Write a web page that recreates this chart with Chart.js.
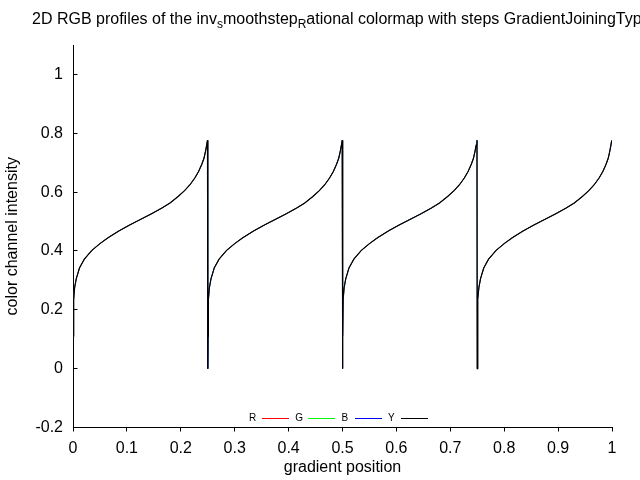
<!DOCTYPE html>
<html>
<head>
<meta charset="utf-8">
<script src="https://cdn.jsdelivr.net/npm/chart.js@4/dist/chart.umd.min.js"></script>
<style>
  html, body { margin: 0; padding: 0; background: #fff; }
  #wrap { width: 640px; height: 480px; }
</style>
</head>
<body>
<div id="wrap"><canvas id="profiles" width="640" height="480"></canvas></div>
<script>
// --- data ---
// gradient positions (four steps, a 0 sample at each joint)
const positions = [
  0.0005, 0.0012, 0.003, 0.006, 0.012, 0.021, 0.035, 0.05, 0.065, 0.085, 0.105, 0.125, 0.145,
  0.165, 0.18, 0.195, 0.207, 0.217, 0.226, 0.233, 0.239, 0.243, 0.246, 0.248, 0.2495, 0.25,
  0.2505, 0.2512, 0.253, 0.256, 0.262, 0.271, 0.285, 0.3, 0.315, 0.335, 0.355, 0.375, 0.395,
  0.415, 0.43, 0.445, 0.457, 0.467, 0.476, 0.483, 0.489, 0.493, 0.496, 0.498, 0.4995, 0.5,
  0.5005, 0.5012, 0.503, 0.506, 0.512, 0.521, 0.535, 0.55, 0.565, 0.585, 0.605, 0.625, 0.645,
  0.665, 0.68, 0.695, 0.707, 0.717, 0.726, 0.733, 0.739, 0.743, 0.746, 0.748, 0.7495, 0.75,
  0.7505, 0.7512, 0.753, 0.756, 0.762, 0.771, 0.785, 0.8, 0.815, 0.835, 0.855, 0.875, 0.895,
  0.915, 0.93, 0.945, 0.957, 0.967, 0.976, 0.983, 0.989, 0.993, 0.996, 0.998, 0.9995
];

// channel intensity at each position (gray map, so R = G = B = Y)
const intensity = [
  0.110, 0.235, 0.275, 0.305, 0.342, 0.372, 0.402, 0.425, 0.445, 0.468, 0.488, 0.507, 0.526,
  0.546, 0.563, 0.585, 0.605, 0.625, 0.648, 0.670, 0.695, 0.715, 0.740, 0.760, 0.776, 0,
  0.110, 0.235, 0.275, 0.305, 0.342, 0.372, 0.402, 0.425, 0.445, 0.468, 0.488, 0.507, 0.526,
  0.546, 0.563, 0.585, 0.605, 0.625, 0.648, 0.670, 0.695, 0.715, 0.740, 0.760, 0.776, 0,
  0.110, 0.235, 0.275, 0.305, 0.342, 0.372, 0.402, 0.425, 0.445, 0.468, 0.488, 0.507, 0.526,
  0.546, 0.563, 0.585, 0.605, 0.625, 0.648, 0.670, 0.695, 0.715, 0.740, 0.760, 0.776, 0,
  0.110, 0.235, 0.275, 0.305, 0.342, 0.372, 0.402, 0.425, 0.445, 0.468, 0.488, 0.507, 0.526,
  0.546, 0.563, 0.585, 0.605, 0.625, 0.648, 0.670, 0.695, 0.715, 0.740, 0.760, 0.776
];

const redValues = intensity;
const greenValues = intensity;
const blueValues = intensity;
const lumaValues = intensity;

const channelLabels = ['R', 'G', 'B', 'Y'];
const xTicks = [0, 0.1, 0.2, 0.3, 0.4, 0.5, 0.6, 0.7, 0.8, 0.9, 1];
const yTicks = [-0.2, 0, 0.2, 0.4, 0.6, 0.8, 1];

const titleParts = [
  ['2D RGB profiles of the inv', false],
  ['s', true],
  ['moothstep', false],
  ['R', true],
  ['ational colormap with steps GradientJoiningType', false]
];

const FONT = '"Liberation Sans", Arial, sans-serif';
Chart.defaults.font.family = FONT;
Chart.defaults.color = '#000';

const toPoints = (vals) => positions.map((x, i) => ({ x: x, y: vals[i] }));

// --- plugins ---
const subscriptTitle = {
  id: 'subscriptTitle',
  afterDraw(chart) {
    const ctx = chart.ctx;
    let x = 32;
    const base = 24;
    ctx.save();
    ctx.fillStyle = '#000';
    ctx.textBaseline = 'alphabetic';
    titleParts.forEach(([text, sub]) => {
      ctx.font = (sub ? 12 : 16) + 'px ' + FONT;
      ctx.fillText(text, x, base + (sub ? 3.5 : 0));
      x += ctx.measureText(text).width;
    });
    ctx.restore();
  }
};

// y ticks point into the plot in the reference
const innerYTicks = {
  id: 'innerYTicks',
  afterDraw(chart) {
    const ys = chart.scales.y, ctx = chart.ctx, left = chart.chartArea.left;
    ctx.save();
    ctx.strokeStyle = '#000';
    ctx.lineWidth = 1;
    ctx.beginPath();
    ys.ticks.forEach((t, i) => {
      const py = Math.round(ys.getPixelForTick(i) - 0.5) + 0.5;
      ctx.moveTo(left, py);
      ctx.lineTo(left + 4.5, py);
    });
    ctx.stroke();
    ctx.restore();
  }
};

// legend sits inside the plot, label before the line sample
const channelLegend = {
  id: 'channelLegend',
  afterDraw(chart) {
    const { ctx, chartArea } = chart;
    const y = Math.round(chartArea.bottom - 9.5) + 0.5;
    let x = chartArea.left + 176;
    ctx.save();
    ctx.font = '10px ' + FONT;
    ctx.textBaseline = 'middle';
    ctx.fillStyle = '#000';
    channelLabels.forEach(label => {
      const ds = chart.data.datasets.find(d => d.label === label);
      ctx.fillText(label, x, y);
      ctx.strokeStyle = ds.borderColor;
      ctx.lineWidth = 1;
      ctx.beginPath();
      ctx.moveTo(Math.round(x + 13), y);
      ctx.lineTo(Math.round(x + 40), y);
      ctx.stroke();
      x += 46.3;
    });
    ctx.restore();
  }
};

// --- chart ---
const lineSet = (label, vals, color, order, width) => ({
  label: label,
  data: toPoints(vals),
  borderColor: color,
  backgroundColor: color,
  borderWidth: width,
  showLine: true,
  pointRadius: 0,
  tension: 0,
  order: order
});

new Chart(document.getElementById('profiles'), {
  type: 'scatter',
  data: {
    datasets: [
      lineSet('R', redValues, '#ff0000', 3, 0.6),
      lineSet('G', greenValues, '#00ff00', 2, 0.6),
      lineSet('B', blueValues, '#0000ff', 1, 0.6),
      lineSet('Y', lumaValues, '#000000', 0, 1.15)
    ]
  },
  options: {
    responsive: false,
    devicePixelRatio: 1,
    animation: false,
    layout: { padding: { top: 45, right: 28, left: 0, bottom: 0 } },
    plugins: {
      legend: { display: false },
      title: { display: false },
      tooltip: { enabled: false }
    },
    scales: {
      x: {
        type: 'linear',
        min: 0, max: 1,
        afterFit: (s) => { s.height = 52.5; },
        afterBuildTicks: (s) => { s.ticks = xTicks.map(v => ({ value: v })); },
        grid: { display: true, drawOnChartArea: false, drawTicks: true, tickLength: 4, color: '#000' },
        border: { display: true, color: '#000', width: 1 },
        ticks: { padding: 7, font: { size: 16 }, color: '#000', maxRotation: 0, autoSkip: false,
                 callback: (v) => String(v) },
        title: { display: true, text: 'gradient position', font: { size: 16 }, color: '#000',
                 padding: { top: 0, bottom: 3 } }
      },
      y: {
        type: 'linear',
        min: -0.2, max: 1.1,
        afterFit: (s) => { s.width = 73; },
        afterBuildTicks: (s) => { s.ticks = yTicks.map(v => ({ value: v })); },
        grid: { display: true, drawOnChartArea: false, drawTicks: false, color: '#000' },
        border: { display: true, color: '#000', width: 1 },
        ticks: { padding: 10, font: { size: 16 }, color: '#000', autoSkip: false,
                 callback: (v) => String(v) },
        title: { display: true, text: 'color channel intensity', font: { size: 16 }, color: '#000',
                 padding: { top: 3, bottom: 0 } }
      }
    }
  },
  plugins: [subscriptTitle, innerYTicks, channelLegend]
});
</script>
</body>
</html>
